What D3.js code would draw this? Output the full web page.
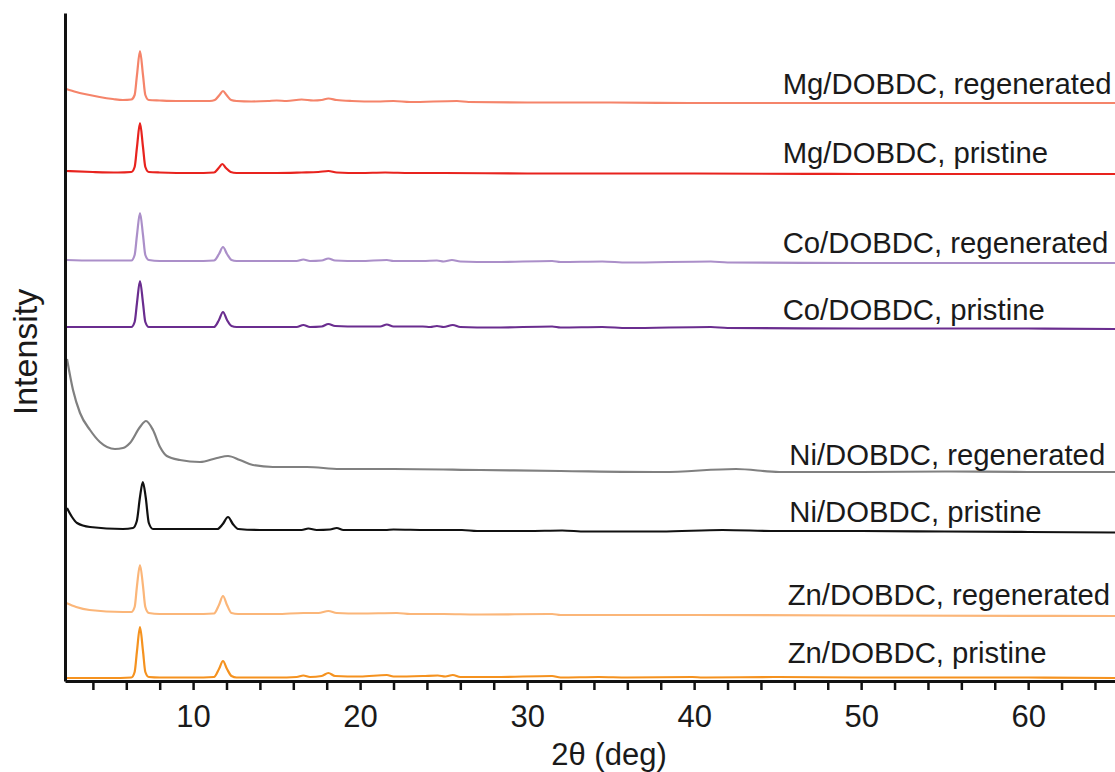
<!DOCTYPE html>
<html>
<head>
<meta charset="utf-8">
<script src="https://cdn.jsdelivr.net/npm/d3@7"></script>
<style>
  body { margin: 0; background: #fff; }
  text { font-family: "Liberation Sans", Arial, sans-serif; fill: #1a1a1a; }
</style>
</head>
<body>
<script>
const width = 1115;
const height = 772;

// series names, top to bottom
const names = [
  'Mg/DOBDC, regenerated', 'Mg/DOBDC, pristine',
  'Co/DOBDC, regenerated', 'Co/DOBDC, pristine',
  'Ni/DOBDC, regenerated', 'Ni/DOBDC, pristine',
  'Zn/DOBDC, regenerated', 'Zn/DOBDC, pristine'
];
const colors = ['#f5846a', '#e8231e', '#ab8fc9', '#6a2d8f', '#808080', '#111111', '#fbb679', '#f5921f'];

// vertical stacking offset of each pattern (a.u.)
const offsets = [578, 507, 418, 352, 209, 148, 65, 3];
// where each name sits: [2theta, a.u.]
const labelAt = [[45.3, 587], [45.3, 518], [45.3, 428], [45.3, 361], [45.7, 216], [45.7, 159], [45.6, 76], [45.6, 18]];

const xTicks = [4, 6, 8, 10, 12, 14, 16, 18, 20, 22, 24, 26, 28, 30, 32, 34, 36, 38, 40, 42, 44, 46, 48, 50, 52, 54, 56, 58, 60, 62, 64];

// [2theta, intensity above offset]
const mgRegen = [[2.4,14],[3.0,11],[3.5,9],[4.4,6],[5.2,4],[5.8,3],[6.3,3.5],[6.5,8],[6.64,28],[6.82,52],[7.0,28],[7.14,8],[7.35,3],[8,2.5],[9,2],[10,2],[11,2],[11.3,3],[11.58,8],[11.79,12],[12.0,8],[12.28,3],[12.6,2],[13.5,1.5],[14.5,2],[15,2.5],[15.6,2],[16.5,3.5],[17.2,2.5],[17.7,3],[18.1,4.5],[18.6,3],[19.5,2],[21,1.5],[22,2],[23,1],[25.8,2],[26.5,1],[30,0.5],[35,0.5],[40,0],[50,0],[60,0],[65.2,0]];
const mgPristine = [[2.4,3],[4,2],[5.5,1.5],[6.3,2],[6.5,7],[6.64,27],[6.82,51],[7.0,27],[7.14,7],[7.35,2],[8,1.5],[10,1],[11.25,1.5],[11.53,6],[11.75,10],[11.97,6],[12.25,2],[12.6,1],[14,1],[15,1],[16.5,1.5],[17.5,2],[18.1,3],[18.6,1.5],[20,1],[21.5,1.5],[23,1],[25,1],[30,0.5],[40,0.5],[50,0],[65.2,0]];
const coRegen = [[2.4,3],[4,2.5],[6.3,2.5],[6.5,8],[6.64,28],[6.82,50],[7.0,28],[7.14,8],[7.35,3],[8,2],[10,2],[11.25,2.5],[11.55,9],[11.79,16],[12.03,9],[12.3,3],[12.6,2],[15,2],[16.2,2],[16.6,3.5],[17,2],[17.7,2.5],[18.1,4.5],[18.5,2.5],[20,2],[21.6,3],[22,2],[23.75,2],[24.6,2.5],[25,1.5],[25.5,3],[26,1.5],[28,1],[31.5,2],[32,1],[34.5,1.5],[36,0.5],[41,1.5],[42,0.5],[50,0],[60,0],[65.2,0]];
const coPristine = [[2.4,2],[4,2],[6.3,2],[6.5,7],[6.64,26],[6.82,48],[7.0,26],[7.14,7],[7.35,2],[8,2],[10,2],[11.25,2],[11.55,9],[11.79,17],[12.03,9],[12.3,3],[12.6,2],[15,2],[16.2,2],[16.6,4],[17,2],[17.7,2.5],[18.1,5],[18.5,3],[20,2.5],[21.2,2.5],[21.6,4.5],[22,2.5],[23.75,2.5],[24.2,2],[24.6,3],[25,2],[25.55,4],[26,2],[28,1.5],[31.5,2.5],[32,1.5],[34.5,2],[36,1],[41,2],[42,1],[50,0.5],[60,0.5],[65.2,0]];
const niRegen = [[2.45,113],[2.81,82],[3.23,59],[3.83,42],[4.42,30],[5.32,23],[5.8,24],[6.22,29],[6.82,45],[7.18,51],[7.6,42],[8.02,25],[8.43,16],[9.21,12],[10.41,10],[11.43,14],[12.09,16],[12.8,12],[13.58,7],[14.78,5],[16.81,5],[18.79,3],[22,3],[27.2,2],[32,1],[38.1,0],[42.5,3],[45.1,0],[50,0],[55,0.5],[60,0],[65.2,0]];
const niPristine = [[2.45,25],[2.75,16],[3.05,10],[3.83,6],[5.8,4],[6.4,5],[6.63,12],[6.82,36],[6.99,51],[7.16,36],[7.35,10],[7.6,4],[10,4],[11.45,4],[11.78,9],[12.09,16],[12.38,9],[12.7,4],[14,3],[16.5,3],[16.9,4.5],[17.4,3],[18.2,3.5],[18.6,5],[19,3],[21.5,3],[22,3.5],[24,3],[26.1,3],[27,2],[30,2],[32.1,2.5],[33.5,1.5],[38,1.5],[41.7,3],[45,2],[50,2],[55,1.5],[60,1],[65.2,0.5]];
const znRegen = [[2.4,13],[3.0,9],[3.8,6],[5.8,4],[6.3,4],[6.5,9],[6.64,30],[6.82,51],[7.0,30],[7.14,9],[7.35,3],[8,2],[10,2],[11.25,2.5],[11.55,11],[11.79,20],[12.03,11],[12.3,3],[12.7,2],[15,2],[16.6,3],[17.5,3],[18.1,5],[18.6,3],[20,2.5],[22.2,3],[23,2],[25,2],[27,1.5],[31.5,2],[32,1],[40,1],[50,0.5],[65.2,0]];
const znPristine = [[2.4,0],[5,0],[6.3,0.5],[6.5,6],[6.64,27],[6.82,51],[7.0,27],[7.14,6],[7.35,1],[8,0.5],[10,0.5],[11.25,1],[11.55,9],[11.79,17],[12.03,9],[12.3,2],[12.6,0.5],[15,0.5],[16.2,1],[16.6,2.5],[17,1],[17.7,2],[18.1,5],[18.5,2],[20,1.5],[21.6,3],[22,1.5],[23.75,2],[24.65,2.5],[25.1,1.5],[25.55,3],[26,1],[28,1],[31.5,2],[32,0.5],[34.3,1],[36,0.5],[39.9,1],[40.5,0.5],[45,1],[50,0.5],[60,0.5],[65.2,0]];

const patterns = [mgRegen, mgPristine, coRegen, coPristine, niRegen, niPristine, znRegen, znPristine];

const svg = d3.select('body').append('svg')
  .attr('width', width)
  .attr('height', height);

const x = d3.scaleLinear().domain([2.33, 65.2]).range([65, 1115]);
const y = d3.scaleLinear().domain([0, 668]).range([681, 13]);

const line = d3.line()
  .x(d => x(d[0]))
  .y(d => y(d[1]))
  .curve(d3.curveMonotoneX);

patterns.forEach((p, i) => {
  svg.append('path')
    .datum(p.map(d => [d[0], d[1] + offsets[i]]))
    .attr('fill', 'none')
    .attr('stroke', colors[i])
    .attr('stroke-width', 2.2)
    .attr('stroke-linejoin', 'round')
    .attr('d', line);

  svg.append('text')
    .text(names[i])
    .attr('x', x(labelAt[i][0]))
    .attr('y', y(labelAt[i][1]))
    .style('font-size', '29.3px');
});

// axes
const xAxis = svg.append('g')
  .attr('transform', `translate(0, ${y(0)})`)
  .call(d3.axisBottom(x)
    .tickValues(xTicks)
    .tickFormat(d => d % 10 === 0 ? d : '')
    .tickSize(9)
    .tickSizeOuter(0)
    .tickPadding(15));
xAxis.select('.domain').attr('stroke', '#111').attr('stroke-width', 3);
xAxis.selectAll('.tick line').attr('stroke', '#111').attr('stroke-width', 2.5);
xAxis.selectAll('.tick text')
  .style('font-size', '31px')
  .style('font-family', '"Liberation Sans", Arial, sans-serif')
  .attr('fill', '#1a1a1a');

const yAxis = svg.append('g')
  .attr('transform', `translate(${x(2.33)}, 0)`)
  .call(d3.axisLeft(y).tickValues([]).tickSizeOuter(0));
yAxis.select('.domain').attr('stroke', '#111').attr('stroke-width', 3);

svg.append('text')
  .text('2θ (deg)')
  .attr('x', 609)
  .attr('y', 765)
  .attr('text-anchor', 'middle')
  .style('font-size', '31px');

svg.append('text')
  .text('Intensity')
  .attr('transform', 'translate(37, 352) rotate(-90)')
  .attr('text-anchor', 'middle')
  .style('font-size', '34px');
</script>
</body>
</html>
